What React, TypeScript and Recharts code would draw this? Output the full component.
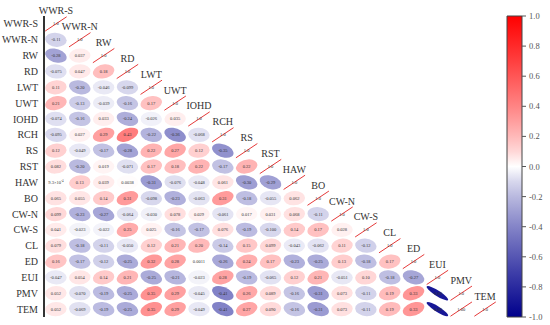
import React from "react";
import { ScatterChart, Scatter, XAxis, YAxis, BarChart, Bar } from "recharts";

const NAMES = ["WWR-S", "WWR-N", "RW", "RD", "LWT", "UWT", "IOHD", "RCH", "RS", "RST", "HAW", "BO", "CW-N", "CW-S", "CL", "ED", "EUI", "PMV", "TEM"];

// lower-triangle correlations, one array per row (columns 0..i-1)
const ROW_WWR_S: number[] = [];
const ROW_WWR_N = [-0.11];
const ROW_RW = [-0.28, 0.037];
const ROW_RD = [-0.075, 0.047, 0.18];
const ROW_LWT = [0.11, -0.2, -0.046, -0.099];
const ROW_UWT = [0.21, -0.13, -0.039, -0.16, 0.17];
const ROW_IOHD = [-0.074, -0.16, 0.033, -0.24, -0.026, 0.035];
const ROW_RCH = [-0.095, 0.027, 0.29, 0.43, -0.22, -0.36, -0.068];
const ROW_RS = [0.12, -0.049, -0.17, -0.28, 0.22, 0.27, 0.12, -0.35];
const ROW_RST = [0.082, -0.2, 0.019, -0.071, 0.17, 0.18, 0.22, -0.17, 0.22];
const ROW_HAW = [0.00093, 0.13, 0.039, 0.0038, -0.31, -0.076, -0.048, 0.061, -0.3, -0.29];
const ROW_BO = [0.065, 0.055, 0.14, 0.31, -0.098, -0.23, -0.063, 0.31, -0.18, -0.055, 0.062];
const ROW_CW_N = [0.099, -0.23, -0.27, -0.064, -0.03, 0.078, 0.029, -0.061, 0.017, 0.031, 0.068, -0.11];
const ROW_CW_S = [0.041, -0.023, -0.022, 0.25, 0.025, -0.16, -0.17, 0.076, -0.19, -0.0998, 0.14, 0.17, 0.028];
const ROW_CL = [0.079, -0.18, -0.11, -0.05, 0.12, 0.21, 0.2, -0.14, 0.15, 0.099, -0.043, -0.062, 0.11, -0.12];
const ROW_ED = [0.16, -0.17, -0.12, -0.25, 0.32, 0.28, 0.0011, -0.26, 0.24, 0.17, -0.23, -0.25, 0.13, -0.18, 0.17];
const ROW_EUI = [-0.047, 0.054, 0.14, 0.21, -0.25, -0.21, -0.023, 0.28, -0.19, -0.065, 0.12, 0.21, -0.051, 0.101, -0.18, -0.27];
const ROW_PMV = [0.052, -0.07, -0.19, -0.25, 0.35, 0.29, -0.045, -0.41, 0.26, 0.089, -0.16, -0.31, 0.073, -0.11, 0.19, 0.33, -0.89];
const ROW_TEM = [0.052, -0.069, -0.19, -0.25, 0.35, 0.29, -0.049, -0.41, 0.27, 0.09, -0.16, -0.31, 0.073, -0.11, 0.19, 0.33, -0.89, 0.9996];

const ROWS = [ROW_WWR_S, ROW_WWR_N, ROW_RW, ROW_RD, ROW_LWT, ROW_UWT, ROW_IOHD, ROW_RCH, ROW_RS, ROW_RST, ROW_HAW, ROW_BO, ROW_CW_N, ROW_CW_S, ROW_CL, ROW_ED, ROW_EUI, ROW_PMV, ROW_TEM];

const CBAR_TICKS = [-1, -0.8, -0.6, -0.4, -0.2, 0, 0.2, 0.4, 0.6, 0.8, 1];

const N = NAMES.length;
const CHART_W = 500;
const CHART_H = 325;
const MARGIN = { top: 16, right: 3, bottom: 8, left: 0 };
const YAXIS_W = 44;
const CW = (CHART_W - MARGIN.left - MARGIN.right - YAXIS_W) / N;
const CH = (CHART_H - MARGIN.top - MARGIN.bottom) / N;
const R = 0.45;

function color(v: number): string {
  const t = Math.pow(Math.min(1, Math.abs(v)), 0.8);
  if (v >= 0) {
    const g = Math.round(255 * (1 - t));
    return `rgb(255,${g},${g})`;
  }
  const c = Math.round(255 * (1 - t));
  const b = Math.round(255 - 115 * t);
  return `rgb(${c},${c},${b})`;
}

function fmt(v: number): string {
  const e = Math.floor(Math.log10(Math.abs(v)));
  const d = Math.max(0, 1 - e);
  return v.toFixed(d);
}

const cells: any[] = [];
ROWS.forEach((row, i) => {
  row.forEach((r, j) => {
    cells.push({ x: j + 0.5, y: i + 0.5, r, diag: false });
  });
  cells.push({ x: i + 0.5, y: i + 0.5, r: 1, diag: true, label: NAMES[i] });
});

const yTicks = NAMES.map((_, i) => i + 0.5);

function ValueText({ cx, cy, v }: { cx: number; cy: number; v: number }) {
  const a = Math.abs(v);
  if (a > 0 && a < 0.001) {
    const e = Math.floor(Math.log10(a));
    const m = v / Math.pow(10, e);
    return (
      <text x={cx} y={cy} textAnchor="middle" dominantBaseline="central" fontSize={4.5} fill="#333">
        <tspan>{m.toFixed(1)}×10</tspan>
        <tspan dy={-1.5} fontSize={3}>{String(e)}</tspan>
      </text>
    );
  }
  return (
    <text x={cx} y={cy} textAnchor="middle" dominantBaseline="central" fontSize={4.5} fill="#333">
      {fmt(v)}
    </text>
  );
}

function CellShape(props: any) {
  const { cx, cy, payload } = props;
  if (cx == null || cy == null || !payload) return <g />;
  const r: number = payload.r;
  const strong = Math.abs(r) > 0.99;
  return (
    <g>
      {strong ? (
        <line
          x1={cx - R * CW}
          y1={cy + R * CH}
          x2={cx + R * CW}
          y2={cy - R * CH}
          stroke="#e53a3a"
          strokeWidth={1}
        />
      ) : (
        <ellipse
          cx={0}
          cy={0}
          rx={R * Math.sqrt(1 + r)}
          ry={R * Math.sqrt(1 - r)}
          transform={`translate(${cx} ${cy}) scale(${CW} ${CH}) rotate(-45)`}
          fill={color(r)}
        />
      )}
      <ValueText cx={cx} cy={cy} v={r} />
      {payload.diag ? (
        <text x={cx} y={cy - 13} textAnchor="middle" dominantBaseline="central" fontSize={10} fill="#333">
          {payload.label}
        </text>
      ) : null}
    </g>
  );
}

const cbarData = [{ k: "c", v: [-1, 1] }];

export default function App() {
  return (
    <div style={{ position: "absolute", left: 0, top: 0, width: 550, height: 325, fontFamily: "'Liberation Serif', 'Times New Roman', serif", background: "#fff" }}>
      <div style={{ position: "absolute", left: 0, top: 0 }}>
        <ScatterChart width={CHART_W} height={CHART_H} margin={MARGIN}>
          <XAxis
            type="number"
            dataKey="x"
            domain={[0, N]}
            tick={false}
            tickLine={false}
            height={0}
            axisLine={{ stroke: "#333", strokeWidth: 2 }}
          />
          <YAxis
            type="number"
            dataKey="y"
            domain={[0, N]}
            reversed
            ticks={yTicks}
            interval={0}
            width={YAXIS_W}
            tickLine={false}
            tickSize={0}
            tickMargin={6}
            tickFormatter={(v: number) => NAMES[Math.round(v - 0.5)] ?? ""}
            tick={{ fontSize: 10, fill: "#333" }}
            axisLine={{ stroke: "#333", strokeWidth: 2 }}
          />
          <Scatter data={cells} shape={(p: any) => <CellShape {...p} />} isAnimationActive={false} />
        </ScatterChart>
      </div>
      <div style={{ position: "absolute", left: 500, top: 0 }}>
        <BarChart width={50} height={325} data={cbarData} margin={{ top: 16, right: 0, bottom: 8, left: 7 }} barCategoryGap={0}>
          <defs>
            <linearGradient id="cbarGrad" x1="0" y1="0" x2="0" y2="1">
              {CBAR_TICKS.slice().reverse().flatMap((v, idx, arr) => {
                const out: any[] = [];
                out.push(<stop key={`s${idx}`} offset={(1 - v) / 2} stopColor={color(v)} />);
                if (idx < arr.length - 1) {
                  const mid = (v + arr[idx + 1]) / 2;
                  out.push(<stop key={`m${idx}`} offset={(1 - mid) / 2} stopColor={color(mid)} />);
                }
                return out;
              })}
            </linearGradient>
          </defs>
          <XAxis dataKey="k" hide />
          <YAxis
            type="number"
            orientation="right"
            domain={[-1, 1]}
            ticks={CBAR_TICKS}
            interval={0}
            width={28}
            axisLine={false}
            tickSize={4}
            tickMargin={3}
            tickLine={{ stroke: "#555" }}
            tickFormatter={(v: number) => v.toFixed(1)}
            tick={{ fontSize: 8.5, fill: "#555" }}
          />
          <Bar dataKey="v" fill="url(#cbarGrad)" stroke="#444" strokeWidth={1} isAnimationActive={false} />
        </BarChart>
      </div>
    </div>
  );
}
